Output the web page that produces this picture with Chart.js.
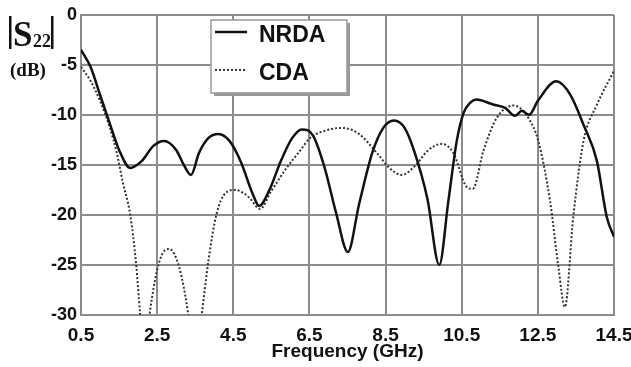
<!DOCTYPE html>
<html>
<head>
<meta charset="utf-8">
<script src="https://cdn.jsdelivr.net/npm/chart.js@4.4.0/dist/chart.umd.min.js"></script>
<style>
  html, body { margin: 0; padding: 0; background: #fff; }
  #wrap { width: 631px; height: 367px; }
</style>
</head>
<body>
<div id="wrap"><canvas id="s22"></canvas></div>
<script>
// Frequency (GHz) / |S22| (dB)
const nrdaFreq = [0.5, 0.75, 1.0, 1.25, 1.5, 1.79, 2.1, 2.4, 2.68, 3.0, 3.2, 3.39, 3.6, 3.85, 4.11, 4.4, 4.7, 5.0, 5.18, 5.45, 5.75, 6.05, 6.3, 6.6, 6.9, 7.2, 7.51, 7.8, 8.15, 8.44, 8.72, 9.0, 9.25, 9.6, 9.91, 10.15, 10.37, 10.55, 10.72, 10.88, 11.33, 11.64, 11.9, 12.08, 12.27, 12.5, 12.98, 13.35, 13.7, 14.05, 14.31, 14.5];
const nrdaDb   = [-3.5, -5.2, -8.0, -10.8, -13.5, -15.3, -14.6, -13.1, -12.6, -13.5, -15.0, -16.0, -13.8, -12.3, -11.9, -12.6, -14.7, -17.8, -19.1, -17.5, -14.6, -12.3, -11.45, -12.1, -15.3, -19.8, -23.7, -19.0, -13.8, -11.3, -10.56, -11.3, -13.6, -18.4, -25.0, -18.6, -12.6, -9.8, -8.8, -8.47, -8.97, -9.3, -10.1, -9.6, -10.0, -8.6, -6.65, -7.97, -11.0, -14.6, -20.2, -22.2];

const cdaFreq = [0.5, 0.75, 1.0, 1.25, 1.44, 1.6, 1.79, 1.95, 2.05, 2.18, 2.31, 2.5, 2.65, 2.82, 3.0, 3.15, 3.32, 3.5, 3.67, 3.85, 4.06, 4.3, 4.55, 4.8, 4.95, 5.2, 5.5, 5.9, 6.25, 6.52, 6.9, 7.35, 7.8, 8.27, 8.6, 8.92, 9.3, 9.6, 9.97, 10.28, 10.63, 10.79, 11.07, 11.42, 11.86, 12.25, 12.51, 12.82, 13.04, 13.21, 13.43, 13.7, 14.05, 14.5];
const cdaDb   = [-5.2, -6.6, -8.6, -11.2, -13.8, -16.8, -19.9, -25.0, -29.7, -34.0, -29.7, -25.5, -23.8, -23.4, -24.3, -26.3, -30.0, -35.0, -30.0, -24.5, -19.9, -17.8, -17.5, -17.9, -18.4, -19.4, -17.6, -15.3, -13.6, -12.3, -11.6, -11.3, -11.9, -13.8, -15.3, -16.0, -15.0, -13.6, -12.9, -13.8, -17.2, -17.4, -13.6, -10.3, -9.07, -10.3, -12.6, -18.6, -25.2, -29.2, -20.2, -12.6, -9.0, -5.6];

const xTicks = [0.5, 2.5, 4.5, 6.5, 8.5, 10.5, 12.5, 14.5];

const gridColor = '#8c8c8c';

// legend box sitting inside the plot, with a drop shadow
const boxLegend = {
  id: 'boxLegend',
  afterDatasetsDraw(chart) {
    const ctx = chart.ctx;
    const x = 211, y = 20, w = 136, h = 73;
    ctx.save();
    ctx.fillStyle = '#9a9a9a';
    ctx.fillRect(x + 3, y + 3, w, h);
    ctx.fillStyle = '#fff';
    ctx.fillRect(x, y, w, h);
    ctx.strokeStyle = '#999';
    ctx.lineWidth = 1.5;
    ctx.strokeRect(x, y, w, h);

    chart.data.datasets.forEach((ds, i) => {
      const ly = 32 + i * 38;
      ctx.beginPath();
      ctx.setLineDash(ds.borderDash || []);
      ctx.strokeStyle = ds.borderColor;
      ctx.lineWidth = ds.borderWidth;
      ctx.moveTo(215, ly);
      ctx.lineTo(247, ly);
      ctx.stroke();
      ctx.setLineDash([]);
      ctx.fillStyle = '#111';
      ctx.font = "bold 23px 'Liberation Sans', Arial, sans-serif";
      ctx.textBaseline = 'alphabetic';
      ctx.fillText(ds.label, 259, ly + 10);
    });
    ctx.restore();
  }
};

// |S22| (dB) label in the top-left corner
const yLabel = {
  id: 'yLabel',
  afterDraw(chart) {
    const ctx = chart.ctx;
    ctx.save();
    ctx.fillStyle = '#111';
    ctx.fillRect(9, 16, 2.5, 33);
    ctx.fillRect(51, 16, 2.5, 33);
    ctx.font = "bold 35px 'Liberation Serif', 'Times New Roman', serif";
    ctx.textBaseline = 'alphabetic';
    ctx.fillText('S', 13, 46);
    ctx.font = "bold 18px 'Liberation Serif', 'Times New Roman', serif";
    ctx.fillText('22', 33, 47);
    ctx.font = "bold 19px 'Liberation Serif', 'Times New Roman', serif";
    ctx.fillText('(dB)', 10, 76);
    ctx.restore();
  }
};

const ctx = document.getElementById('s22');

new Chart(ctx, {
  type: 'line',
  data: {
    datasets: [
      {
        label: 'NRDA',
        data: nrdaFreq.map((f, i) => ({ x: f, y: nrdaDb[i] })),
        borderColor: '#111',
        borderWidth: 2.5,
        pointRadius: 0,
        cubicInterpolationMode: 'monotone',
        fill: false,
      },
      {
        label: 'CDA',
        data: cdaFreq.map((f, i) => ({ x: f, y: cdaDb[i] })),
        borderColor: '#333',
        borderWidth: 2,
        borderDash: [2, 2],
        pointRadius: 0,
        cubicInterpolationMode: 'monotone',
        fill: false,
      }
    ]
  },
  options: {
    responsive: true,
    maintainAspectRatio: false,
    animation: false,
    layout: { padding: { top: 13, right: 17, left: 0, bottom: 0 } },
    scales: {
      x: {
        type: 'linear',
        min: 0.5,
        max: 14.5,
        afterBuildTicks: (scale) => { scale.ticks = xTicks.map(v => ({ value: v })); },
        afterFit: (scale) => {
          scale.height = 52;
          scale.paddingLeft = 0;
          scale.paddingRight = 0;
        },
        grid: { color: gridColor, lineWidth: 2, drawTicks: false },
        border: { color: gridColor, width: 2 },
        ticks: {
          color: '#111',
          padding: 9,
          font: { family: "'Liberation Sans', Arial, sans-serif", size: 19, weight: 'bold' },
          callback: (v) => Number(v).toFixed(1),
        },
        title: {
          display: true,
          text: 'Frequency (GHz)',
          color: '#111',
          padding: { top: 0, bottom: 4 },
          font: { family: "'Liberation Sans', Arial, sans-serif", size: 19, weight: 'bold' },
        }
      },
      y: {
        min: -30,
        max: 0,
        afterFit: (scale) => { scale.width = 81; },
        grid: { color: gridColor, lineWidth: 2, drawTicks: false },
        border: { color: gridColor, width: 2 },
        ticks: {
          stepSize: 5,
          color: '#111',
          padding: 4,
          font: { family: "'Liberation Sans', Arial, sans-serif", size: 18, weight: 'bold' },
        }
      }
    },
    plugins: {
      legend: { display: false },
      tooltip: { enabled: false },
    }
  },
  plugins: [boxLegend, yLabel]
});
</script>
</body>
</html>
